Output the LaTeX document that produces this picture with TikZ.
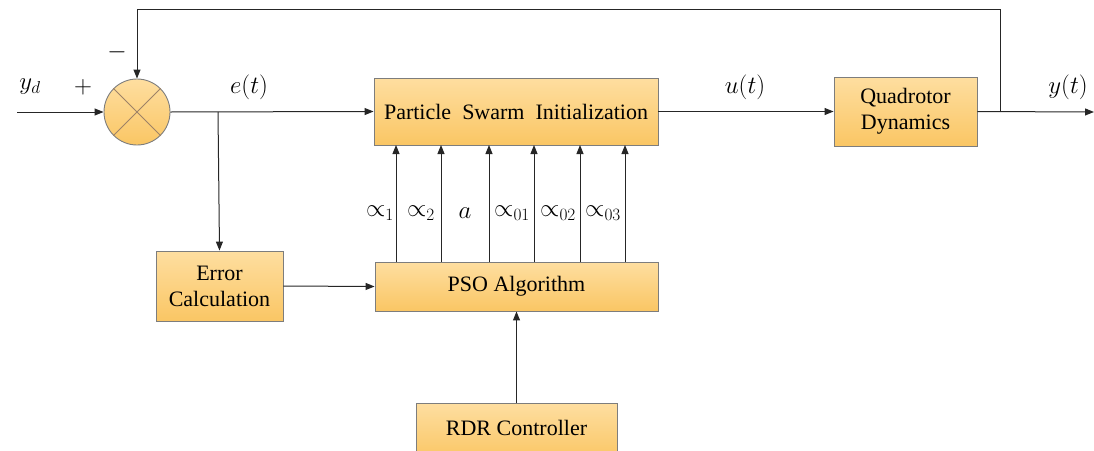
\documentclass[tikz,border=0pt]{standalone}
\usepackage{fontspec}
\setmainfont{Liberation Serif}
\newfontfamily\boxfont{Liberation Serif}
\usetikzlibrary{arrows.meta}
\definecolor{boxtop}{RGB}{254,222,160}
\definecolor{boxbot}{RGB}{250,198,100}
\definecolor{edgegray}{RGB}{125,125,125}
\tikzset{
  blk/.style={draw=edgegray, line width=0.9pt, top color=boxtop, bottom color=boxbot, minimum width=#1, inner sep=0pt, align=center, font=\boxfont\fontsize{22}{26}\selectfont},
  conn/.style={line width=1pt, draw=black!85},
  arr/.style={conn, -{Triangle[length=9pt,width=7pt]}},
  lbl/.style={font=\fontsize{25}{30}\selectfont, inner sep=0pt}
}
\begin{document}
\begin{tikzpicture}[x=1pt,y=-1pt]
\useasboundingbox (0,0) rectangle (1094,450);
\clip (0,0) rectangle (1094,450);
% blocks
\node[blk=284pt, minimum height=67pt] (psi) at (516,111.5) {Particle\ \ Swarm\ \ Initialization};
\node[blk=143pt, minimum height=69pt] (qd) at (905.5,111.5) {Quadrotor\\Dynamics};
\node[blk=127pt, minimum height=70pt] (err) at (219.5,286) {Error\\Calculation};
\node[blk=283pt, minimum height=49pt] (pso) at (516.5,286.5) {PSO Algorithm};
\node[blk=201pt, minimum height=56pt, anchor=north] (rdr) at (516.5,403) {};
\node[font=\boxfont\fontsize{22}{26}\selectfont, inner sep=0pt] (rdrt) at (516.5,428) {RDR Controller};
% sum junction
\node[circle, draw=edgegray, line width=0.9pt, top color=boxtop, bottom color=boxbot, minimum size=66pt, inner sep=0pt] (sum) at (137,112) {};
\draw[draw=brown!60!black!70, line width=0.8pt] (sum.north west) -- (sum.south east) (sum.north east) -- (sum.south west);
% coordinates
\coordinate (in) at (17,112);
\coordinate (br) at (218,112);
\coordinate (fb) at (1000,112);
\coordinate (out) at (1094,112);
% connectors
\draw[arr] (in) -- (sum.west);
\draw[arr] (sum.east) -- (psi.west);
\draw[arr] (br) -- (err.north);
\draw[arr] (psi.east) -- (qd.west);
\draw[arr] (qd.east) -- (out);
\draw[arr] (fb) -- (1000,9) -| (sum.north);
\draw[arr] (err.east) -- (pso.west);
\draw[arr] (rdr.north) -- (pso.south);
\foreach \x/\n in {396/a1,441/a2,489/a3,534/a4,580/a5,625/a6}{
  \coordinate (\n s) at (\x,262);
  \coordinate (\n e) at (\x,145);
  \draw[arr] (\n s) -- (\n e);
}
% labels
\node[lbl] (lyd) at (30,87) {$y_d$};
\node[lbl] (lplus) at (83,87) {$+$};
\node[lbl] (lminus) at (117,52) {$-$};
\node[lbl] (let) at (249,87) {$e(t)$};
\node[lbl] (lut) at (745,87) {$u(t)$};
\node[lbl] (lyt) at (1068,87) {$y(t)$};
\node[lbl] (p1) at (380,213) {$\propto_1$};
\node[lbl] (p2) at (421,213) {$\propto_2$};
\node[lbl] (pa) at (465,213) {$a$};
\node[lbl] (p01) at (512,213) {$\propto_{01}$};
\node[lbl] (p02) at (558,213) {$\propto_{02}$};
\node[lbl] (p03) at (603,213) {$\propto_{03}$};
\end{tikzpicture}
\end{document}
